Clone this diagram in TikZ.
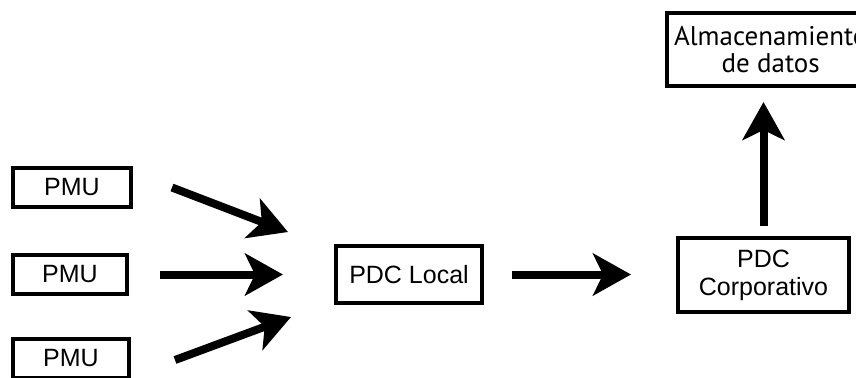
\documentclass[tikz,border=0pt]{standalone}
\usepackage{fontspec}
\setmainfont{Liberation Sans}
\newfontfamily\storefont{PT Sans}
\usetikzlibrary{calc,arrows.meta}

\tikzset{
  unit/.style = {draw, line width=2pt, inner sep=0pt, align=center,
    font=\fontsize{12.5}{14}\selectfont},
  flow/.style = {line width=4pt, -{Stealth[length=19pt, width=21pt, inset=5pt]}}
}

\begin{document}
\begin{tikzpicture}[x=0.5pt, y=-0.5pt]
  \useasboundingbox (0,0) rectangle (856,377);

  % sources
  \node[unit, minimum width=59pt, minimum height=19.5pt] (pmu1) at (72,187.5) {PMU};
  \node[unit, minimum width=57pt, minimum height=19.5pt] (pmu2) at (70,274.5) {PMU};
  \node[unit, minimum width=58pt, minimum height=19.5pt] (pmu3) at (71,358.5) {PMU};

  % concentrators
  \node[unit, minimum width=73pt, minimum height=28.5pt] (local) at (409,274.5) {PDC Local};
  \node[unit, minimum width=85.5pt, minimum height=37pt] (corp) at (763.5,275) {PDC\\Corporativo};
  \node[unit, anchor=west, inner xsep=3.5pt, minimum height=36.5pt,
    font=\storefont\fontsize{13.5}{13.5}\selectfont] (store) at (665,49.5) {Almacenamiento\\de datos};

  \draw[flow] ($(pmu1.east)+(39,0)$) -- ($(local.west)+(-46,-42.5)$);
  \draw[flow, shorten <=15.5pt, shorten >=25.5pt] (pmu2.east) -- (local.west);
  \draw[flow] ($(pmu3.east)+(44,1.5)$) -- ($(local.west)+(-43,42.5)$);
  \draw[flow, shorten <=14pt, shorten >=22.5pt] (local.east) -- (local.east -| corp.west);
  \draw[flow, shorten <=5pt, shorten >=7pt] (corp.north) -- (corp.north |- store.south);
\end{tikzpicture}
\end{document}
